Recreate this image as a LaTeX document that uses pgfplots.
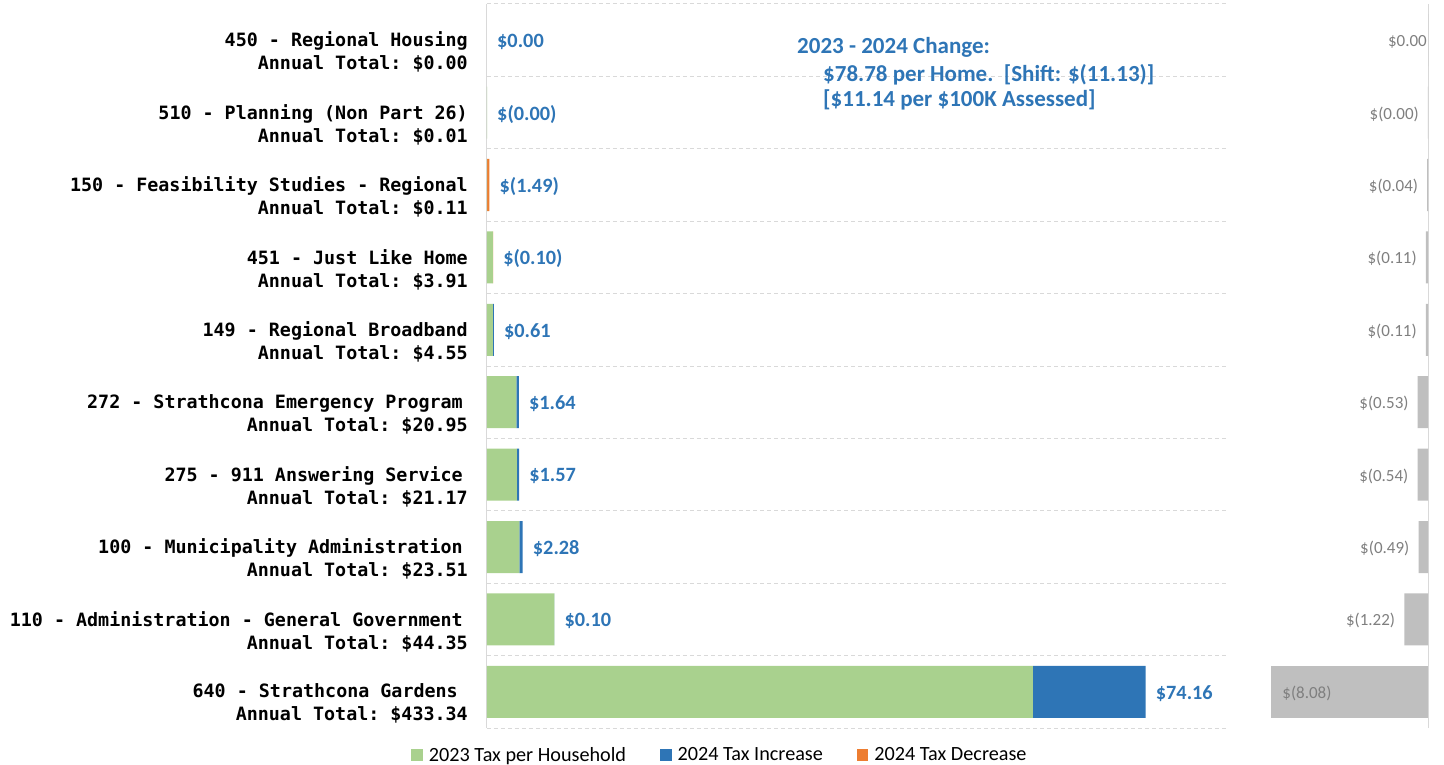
\documentclass[border=0pt]{standalone}
\usepackage{pgfplots}
\pgfplotsset{compat=1.18}
\usepackage{fontspec}
\setmainfont{Carlito}
\newfontfamily\monofont{DejaVu Sans Mono}
\definecolor{cgreen}{HTML}{A9D18E}
\definecolor{cblue}{HTML}{2E75B6}
\definecolor{corange}{HTML}{ED7D31}
\definecolor{cgrey}{HTML}{BFBFBF}
\definecolor{ctxtgrey}{HTML}{7F7F7F}
\definecolor{cgrid}{HTML}{D9D9D9}
\pgfplotsset{sq legend/.style={legend image code/.code={\fill[##1] (0pt,-6pt) rectangle (11.5pt,6pt);}}}
\begin{document}
\begin{tikzpicture}
\path[use as bounding box] (0,0) rectangle (1444pt,-765pt);
\begin{axis}[
  at={(487pt,-4pt)}, anchor=north west,
  scale only axis, width=741pt, height=724pt,
  xbar stacked, bar width=52pt,
  xmin=0, xmax=487.5, ymin=-0.5, ymax=9.5,
  axis x line=none, axis y line*=left,
  axis line style={cgrid, line width=1pt},
  ytick={0,...,9},
  yticklabels={
    {640 - Strathcona Gardens\hspace*{10pt}\\Annual Total: \$433.34},
    {110 - Administration - General Government\hspace*{5pt}\\Annual Total: \$44.35},
    {100 - Municipality Administration\hspace*{5pt}\\Annual Total: \$23.51},
    {275 - 911 Answering Service\hspace*{5pt}\\Annual Total: \$21.17},
    {272 - Strathcona Emergency Program\hspace*{5pt}\\Annual Total: \$20.95},
    {149 - Regional Broadband\\Annual Total: \$4.55},
    {451 - Just Like Home\\Annual Total: \$3.91},
    {150 - Feasibility Studies - Regional\\Annual Total: \$0.11},
    {510 - Planning (Non Part 26)\\Annual Total: \$0.01},
    {450 - Regional Housing\\Annual Total: \$0.00}},
  yticklabel style={font=\monofont\bfseries\fontsize{18.35}{23}\selectfont\frenchspacing, align=right, inner sep=0pt, xshift=-19pt, yshift=-12pt},
  major tick length=0pt, minor tick length=0pt,
  minor ytick={-0.5,0.5,...,9.5},
  yminorgrids, minor grid style={cgrid, dash pattern=on 4pt off 3pt, line width=1pt},
  legend columns=3,
  legend style={at={(0.3144,-0.0373)}, anchor=center, draw=none, fill=none,
    font=\fontsize{20.2}{24}\selectfont,
    /tikz/every odd column/.append style={column sep=4pt},
    /tikz/every even column/.append style={column sep=32pt}},
]
\addplot[fill=cgreen, draw=none, sq legend] coordinates {
  (359.18,0) (44.25,1) (21.23,2) (19.60,3) (19.31,4) (3.94,5) (3.91,6) (0.11,7) (0.01,8) (0,9)};
\addplot[fill=cblue, draw=none, sq legend] coordinates {
  (74.16,0) (0.10,1) (2.28,2) (1.57,3) (1.64,4) (0.61,5) (0,6) (0,7) (0,8) (0,9)};
\addplot[fill=corange, draw=none, sq legend] coordinates {
  (0,0) (0,1) (0,2) (0,3) (0,4) (0,5) (0.10,6) (1.49,7) (0.00,8) (0,9)};
\legend{2023 Tax per Household, 2024 Tax Increase, 2024 Tax Decrease}
\end{axis}
% overlay axis for the change labels at the end of each stacked bar
\begin{axis}[
  at={(487pt,-4pt)}, anchor=north west,
  scale only axis, width=741pt, height=724pt,
  xmin=0, xmax=487.5, ymin=-0.5, ymax=9.5,
  hide axis, clip=false,
]
\addplot[draw=none, mark=none, point meta=explicit symbolic, nodes near coords,
  nodes near coords style={anchor=west, inner sep=0pt, xshift=10pt, yshift=-1.5pt, text=cblue,
    font=\bfseries\fontsize{20.3}{24}\selectfont}] coordinates {
  (433.34,0) [\$74.16] (44.35,1) [\$0.10] (23.51,2) [\$2.28] (21.17,3) [\$1.57] (20.95,4) [\$1.64]
  (4.55,5) [\$0.61] (4.01,6) [\$(0.10)] (1.60,7) [\$(1.49)] (0.01,8) [\$(0.00)] (0,9) [\$0.00]};
\end{axis}
\begin{axis}[
  at={(1233pt,-4pt)}, anchor=north west,
  scale only axis, width=195pt, height=724pt,
  xbar, bar shift=0pt, bar width=52pt,
  xmin=-10.05, xmax=0, ymin=-0.5, ymax=9.5,
  axis x line=none, axis y line*=right,
  axis line style={cgrid, line width=1pt},
  ytick=\empty,
  major tick length=0pt, minor tick length=0pt,
  minor ytick={-0.5,0.5,...,9.5},
  yminorgrids, minor grid style={cgrid, dash pattern=on 4pt off 3pt, line width=1pt},
  grey lab/.style={point meta=explicit symbolic, nodes near coords,
    nodes near coords style={inner sep=0pt, yshift=-1.5pt, text=ctxtgrey, font=\fontsize{17}{20}\selectfont}},
]
\addplot[fill=cgrey, draw=none, grey lab, nodes near coords style={anchor=east, xshift=-9pt}] coordinates {
  (-1.22,1) [\$(1.22)] (-0.49,2) [\$(0.49)] (-0.54,3) [\$(0.54)] (-0.53,4) [\$(0.53)]
  (-0.11,5) [\$(0.11)] (-0.11,6) [\$(0.11)] (-0.04,7) [\$(0.04)] (-0.001,8) [\$(0.00)]};
\addplot[fill=cgrey, draw=none, grey lab, nodes near coords style={anchor=west, xshift=11pt}] coordinates {
  (-8.08,0) [\$(8.08)]};
\addplot[fill=cgrey, draw=none, grey lab, nodes near coords style={anchor=east, xshift=-1pt}] coordinates {
  (0,9) [\$0.00]};
\end{axis}
\begin{scope}[every node/.style={anchor=base west, inner sep=0pt, text=cblue, font=\bfseries\fontsize{23}{27}\selectfont}]
\node at (797pt,-54pt) {2023 - 2024 Change:};
\node at (823pt,-81.5pt) {\$78.78 per Home.\ \ [Shift: \$(11.13)]};
\node at (823pt,-106.5pt) {[\$11.14 per \$100K Assessed]};
\end{scope}
\end{tikzpicture}
\end{document}
